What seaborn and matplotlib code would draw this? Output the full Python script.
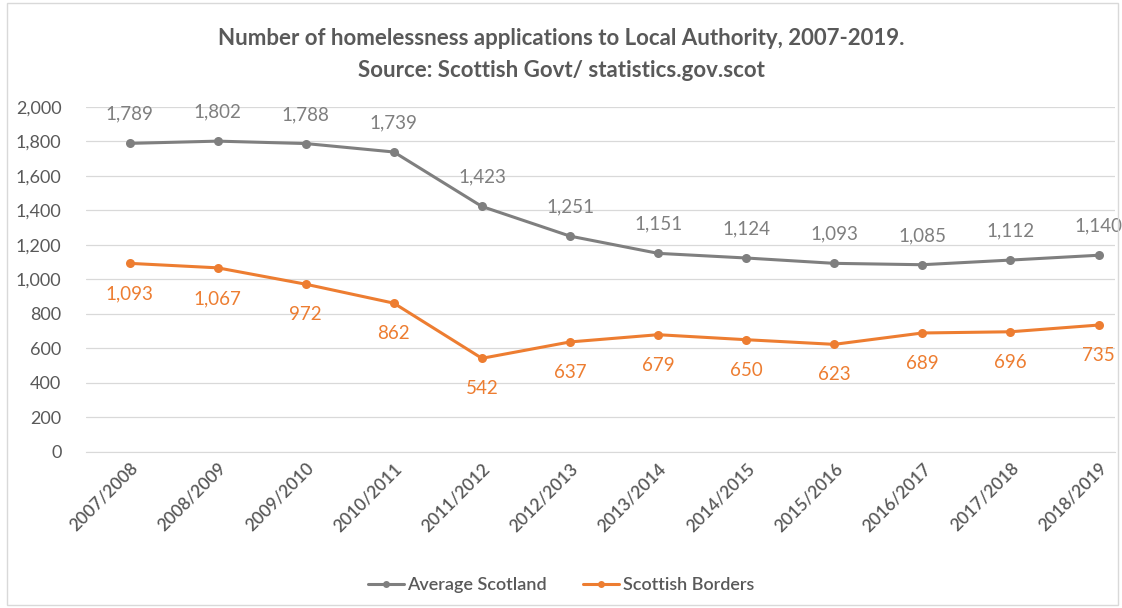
import pandas as pd
import matplotlib.pyplot as plt
import seaborn as sns
from matplotlib.patches import Rectangle

# --- DATA ---
years = ["2007/2008", "2008/2009", "2009/2010", "2010/2011", "2011/2012", "2012/2013",
         "2013/2014", "2014/2015", "2015/2016", "2016/2017", "2017/2018", "2018/2019"]
average_scotland = [1789, 1802, 1788, 1739, 1423, 1251, 1151, 1124, 1093, 1085, 1112, 1140]
scottish_borders = [1093, 1067, 972, 862, 542, 637, 679, 650, 623, 689, 696, 735]
series_names = ["Average Scotland", "Scottish Borders"]

GRAY = "#7f7f7f"
ORANGE = "#ed7d31"
TEXT = "#595959"

df = pd.DataFrame({
    "year": years * 2,
    "value": average_scotland + scottish_borders,
    "series": [series_names[0]] * len(years) + [series_names[1]] * len(years),
})

sns.set_style("white")
plt.rcParams["font.family"] = ["Lato", "DejaVu Sans"]

fig = plt.figure(figsize=(11.22, 6.08), dpi=100)
ax = fig.add_axes([0.077, 0.257, 0.917, 0.567])

sns.lineplot(data=df, x="year", y="value", hue="series", sort=False,
             palette=[GRAY, ORANGE], marker="o", markersize=6.5, markeredgewidth=0,
             linewidth=2.2, ax=ax, legend=False)

ax.set_ylim(0, 2000)
ax.set_xlim(-0.49, 11.19)
ax.set_yticks(range(0, 2001, 200))
ax.set_yticklabels([f"{v:,}" for v in range(0, 2001, 200)], fontsize=13, color=TEXT)
ax.set_xticks(range(len(years)))
ax.set_xticklabels(years, rotation=45, ha="right", rotation_mode="anchor",
                   fontsize=12.5, color=TEXT, fontweight="semibold")
ax.tick_params(axis="y", length=0, pad=18)
ax.tick_params(axis="x", length=0, pad=6)
ax.grid(axis="y", color="#d9d9d9", linewidth=0.9)
ax.set_xlabel("")
ax.set_ylabel("")
for s in ["top", "right", "left"]:
    ax.spines[s].set_visible(False)
ax.spines["bottom"].set_color("#d9d9d9")

# --- DATA LABELS ---
for i, v in enumerate(average_scotland):
    ax.annotate(f"{v:,}", (i, v), xytext=(0, 21), textcoords="offset points",
                ha="center", va="center", fontsize=13.5, color=GRAY)
for i, v in enumerate(scottish_borders):
    ax.annotate(f"{v:,}", (i, v), xytext=(0, -22), textcoords="offset points",
                ha="center", va="center", fontsize=13.5, color=ORANGE)

# --- TITLE ---
fig.text(0.5, 0.937, "Number of homelessness applications to Local Authority, 2007-2019.",
         ha="center", va="center", fontsize=16, fontweight="bold", color=TEXT)
fig.text(0.5, 0.884, "Source: Scottish Govt/ statistics.gov.scot",
         ha="center", va="center", fontsize=16, fontweight="bold", color=TEXT)

# --- LEGEND ---
handles = [plt.Line2D([], [], color=c, marker="o", markersize=5, linewidth=2.2,
                      markeredgewidth=0) for c in [GRAY, ORANGE]]
fig.legend(handles, series_names, loc="center", bbox_to_anchor=(0.5, 0.038), ncol=2,
           frameon=False, prop={"size": 13, "weight": "semibold"}, labelcolor=TEXT,
           handlelength=2.0, handletextpad=0.2, columnspacing=2.0)

# --- BORDER ---
fig.patches.append(Rectangle((0.006, 0.005), 0.99, 0.99, transform=fig.transFigure,
                             fill=False, edgecolor="#d9d9d9", linewidth=1))

fig.savefig("out.png", dpi=100)
